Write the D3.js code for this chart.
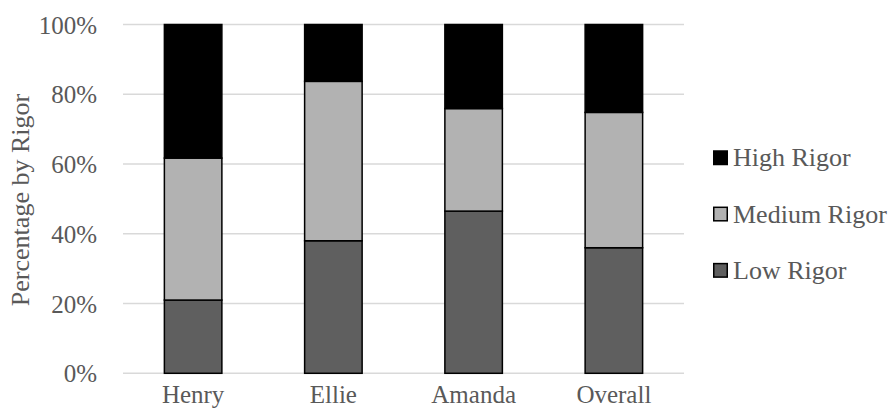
<!DOCTYPE html>
<html>
<head>
<meta charset="utf-8">
<script src="https://cdn.jsdelivr.net/npm/d3@7"></script>
<style>
  html, body { margin: 0; padding: 0; background: #fff; }
  svg text { font-family: "Liberation Serif", "Times New Roman", serif; fill: #595959; }
</style>
</head>
<body>
<svg id="chart" width="892" height="416"></svg>
<script>
// Share of each rigor level per person (percent)
const categories = ["Henry", "Ellie", "Amanda", "Overall"];
const lowRigor    = [21.0, 38.0, 46.5, 36.0];
const mediumRigor = [40.7, 45.7, 29.4, 38.8];
const highRigor   = [38.3, 16.3, 24.1, 25.2];
const seriesNames = ["Low Rigor", "Medium Rigor", "High Rigor"];
const seriesColors = ["#5f5f5f", "#b2b2b2", "#000000"];
const yTicks = [0, 20, 40, 60, 80, 100];

const rows = categories.map((c, i) => ({
  cat: c,
  "Low Rigor": lowRigor[i],
  "Medium Rigor": mediumRigor[i],
  "High Rigor": highRigor[i]
}));

const svg = d3.select("#chart");
const plot = { left: 123, right: 684, top: 24.5, bottom: 373.3 };
const serif = '"Liberation Serif", "Times New Roman", serif';

const x = d3.scaleBand().domain(categories).range([plot.left, plot.right]).paddingInner(0.59).paddingOuter(0.295);
const y = d3.scaleLinear().domain([0, 100]).range([plot.bottom, plot.top]);

// Gridlines
svg.append("g").selectAll("line").data(yTicks).join("line")
  .attr("x1", plot.left).attr("x2", plot.right)
  .attr("y1", d => y(d)).attr("y2", d => y(d))
  .attr("stroke", "#d9d9d9").attr("stroke-width", 1.5);

// Y axis labels
const yAxis = d3.axisLeft(y).tickValues(yTicks).tickFormat(d => d + "%").tickSize(0).tickPadding(0);
const gy = svg.append("g").attr("transform", "translate(97,0)").call(yAxis);
gy.select(".domain").remove();
gy.selectAll("text").style("font-family", serif).style("font-size", "25px")
  .attr("fill", "#595959").attr("dy", "0.34em");

// X axis labels
const xAxis = d3.axisBottom(x).tickSize(0).tickPadding(0);
const gx = svg.append("g").attr("transform", "translate(0,0)").call(xAxis);
gx.select(".domain").remove();
gx.selectAll("text").style("font-family", serif).style("font-size", "25px")
  .attr("fill", "#595959").attr("y", 403).attr("dy", 0);

// Stacked bars
const stack = d3.stack().keys(seriesNames);
const layers = stack(rows);
svg.append("g").selectAll("g").data(layers).join("g")
  .attr("fill", (d, i) => seriesColors[i])
  .selectAll("rect").data(d => d).join("rect")
  .attr("x", d => x(d.data.cat))
  .attr("width", x.bandwidth())
  .attr("y", d => y(d[1]))
  .attr("height", d => y(d[0]) - y(d[1]))
  .attr("stroke", "#000").attr("stroke-width", 1.5);

// Y axis title
svg.append("text")
  .attr("transform", "translate(20,200) rotate(-90)")
  .attr("text-anchor", "middle").attr("dy", "0.34em")
  .style("font-size", "26px")
  .text("Percentage by Rigor");

// Legend (top-to-bottom: High, Medium, Low)
const legendItems = seriesNames.map((n, i) => ({ name: n, color: seriesColors[i] })).reverse();
const lg = svg.append("g").selectAll("g").data(legendItems).join("g")
  .attr("transform", (d, i) => `translate(713,${157.5 + i * 56.3})`);
lg.append("rect").attr("x", 0.75).attr("y", -6.5).attr("width", 13.5).attr("height", 13.5)
  .attr("fill", d => d.color).attr("stroke", "#000").attr("stroke-width", 1.5);
lg.append("text").attr("x", 20).attr("dy", "0.34em").style("font-size", "26px").text(d => d.name);
</script>
</body>
</html>
